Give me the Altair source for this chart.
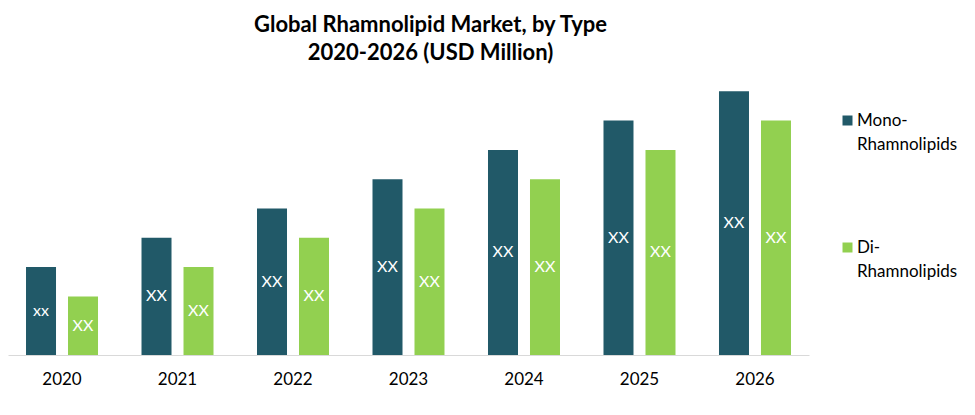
import altair as alt
import pandas as pd

years = ["2020", "2021", "2022", "2023", "2024", "2025", "2026"]
mono_values = [3, 4, 5, 6, 7, 8, 9]
di_values = [2, 3, 4, 5, 6, 7, 8]
mono_labels = ["xx", "XX", "XX", "XX", "XX", "XX", "XX"]
di_labels = ["XX", "XX", "XX", "XX", "XX", "XX", "XX"]
types = ["Mono-Rhamnolipids", "Di-Rhamnolipids"]
colors = ["#215968", "#92D050"]

rows = []
for y, v, l in zip(years, mono_values, mono_labels):
    rows.append({"year": y, "type": types[0], "value": v, "label": l})
for y, v, l in zip(years, di_values, di_labels):
    rows.append({"year": y, "type": types[1], "value": v, "label": l})
df = pd.DataFrame(rows)

FONT = "Lato"

x = alt.X("year:N", title=None,
          scale=alt.Scale(paddingInner=0.2727, paddingOuter=0.104),
          axis=alt.Axis(labelAngle=0, labelFont=FONT, labelFontSize=17, labelColor="#000000",
                        ticks=False, tickSize=0, labelPadding=16, domainColor="#D9D9D9",
                        domainWidth=1, grid=False))
xoff = alt.XOffset("type:N", sort=types,
                   scale=alt.Scale(paddingInner=0.2857, paddingOuter=0.1429))
y = alt.Y("value:Q", title=None, scale=alt.Scale(domain=[0, 10], nice=False),
          axis=None)

bars = alt.Chart(df).mark_bar().encode(
    x=x,
    xOffset=xoff,
    y=y,
    color=alt.Color("type:N", sort=types,
                    scale=alt.Scale(domain=types, range=colors),
                    legend=alt.Legend(
                        title=None, orient="none", legendX=831, legendY=55,
                        direction="vertical",
                        symbolType="M-1,-2H1V0H-1Z", symbolSize=100,
                        symbolStrokeWidth=0, symbolOpacity=1,
                        labelFont=FONT, labelFontSize=17, labelColor="#000000",
                        labelBaseline="alphabetic", labelOffset=1,
                        labelExpr="[split(datum.label, '-')[0] + '-', split(datum.label, '-')[1]]",
                        rowPadding=85, padding=0, labelLimit=300)),
)

texts = alt.Chart(df).transform_calculate(mid="datum.value / 2").mark_text(
    font=FONT, fontSize=16, color="white", baseline="middle"
).encode(
    x=x,
    xOffset=xoff,
    y=alt.Y("mid:Q"),
    text="label:N",
)

chart = alt.layer(bars, texts).properties(
    width=801,
    height=293,
    padding={"left": 0, "top": 6, "right": 0, "bottom": 0},
    title=alt.TitleParams(
        ["Global Rhamnolipid  Market, by Type", "2020-2026 (USD Million)"],
        font=FONT, fontSize=22, fontWeight="bold", color="#000000",
        lineHeight=28, anchor="middle", frame="group", dx=22, offset=-3),
).configure(
    style={"guide-label": {"lineHeight": 24}},
    view=alt.ViewConfig(strokeWidth=0, stroke="transparent"),
)

chart.save("out.html", embed_options={"renderer": "svg", "actions": False})
